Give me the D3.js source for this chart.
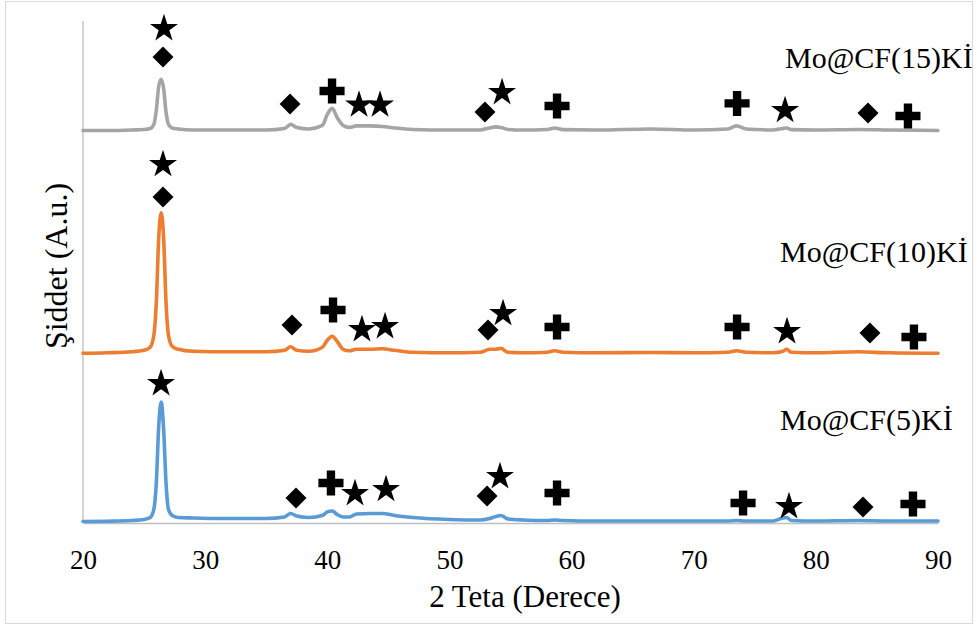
<!DOCTYPE html>
<html>
<head>
<meta charset="utf-8">
<script src="https://cdn.jsdelivr.net/npm/d3@7"></script>
<style>
  html, body { margin: 0; padding: 0; background: #fff; }
  svg { display: block; }
  svg text { font-family: "Liberation Serif", "Times New Roman", serif !important; fill: #000; }
</style>
</head>
<body>
<svg id="chart" width="977" height="626"></svg>
<script>
// ---- data ----
const theta = [20, 22, 24, 25, 25.5, 25.8, 26.0, 26.2, 26.4, 26.6, 26.8, 27.0, 27.3, 27.8, 29, 32, 35, 36.5, 37.0, 37.5, 38.5, 39.6, 40.0, 40.4, 40.8, 41.3, 41.8, 42.4, 43.5, 44.5, 45.5, 47, 50, 52.5, 53.3, 53.8, 54.2, 54.8, 56, 58, 58.6, 59.3, 62, 66.5, 70, 72.8, 73.5, 74.3, 76.5, 77.3, 77.6, 78, 80, 83.5, 86, 90];

const seriesNames = ["Mo@CF(5)Kİ", "Mo@CF(10)Kİ", "Mo@CF(15)Kİ"];
const offsets = [1.5, 169, 391];

const int5 = [0, 0.3, 1, 2, 4, 12, 38, 95, 119, 92, 38, 12, 6, 4, 3.5, 3, 3, 4.5, 8, 5.5, 4, 6, 9.5, 10.5, 7, 4.5, 4.5, 7.5, 8, 8, 6, 4, 2, 1.5, 3, 5, 6, 2.5, 1.5, 1, 1.5, 1, 0.5, 0.5, 0.5, 0.5, 1, 0.5, 0.5, 3.5, 4, 1, 0.5, 1, 0.5, 0.5];
const int10 = [0, 0.5, 1.5, 3, 6, 18, 50, 115, 140, 115, 50, 18, 7, 4, 2, 1.5, 1.5, 3, 6.5, 3, 2, 6, 13, 17, 12, 4, 2.5, 4, 4, 4.5, 3, 1, 0.5, 1, 4, 4, 5, 1, 0.5, 1, 2.5, 1, 0.5, 0.8, 0.5, 1, 2.5, 1, 0.5, 2, 4, 1, 0.5, 1.5, 0.5, 0];
const int15 = [0, 0, 0.5, 1, 2, 6, 20, 44, 51, 42, 18, 6, 2.5, 1.5, 0.5, 0.5, 0.5, 2, 6, 3, 1.5, 5, 16, 22, 13, 5, 3, 4.5, 4.5, 4, 2.5, 1, 0.5, 0.5, 2.5, 3.5, 3, 1, 0.5, 1, 2.5, 0.8, 0.5, 1.5, 0.5, 1.5, 4.5, 1.5, 0.5, 2, 2.5, 0.8, 0.5, 1, 0.5, 0];

// phase markers: star / diamond / plus
const markType5 = ["star", "diamond", "plus", "star", "star", "diamond", "star", "plus", "plus", "star", "diamond", "plus"];
const markTheta5 = [26.39, 37.44, 40.30, 42.27, 44.81, 53.08, 54.14, 58.81, 74.04, 77.80, 83.86, 87.95];
const markValue5 = [140.4, 24.9, 39.8, 30.9, 34.9, 26.9, 47.8, 29.9, 19.9, 17.9, 15.9, 18.9];

const markType10 = ["star", "diamond", "diamond", "plus", "star", "star", "diamond", "star", "plus", "plus", "star", "diamond", "plus"];
const markTheta10 = [26.55, 26.55, 37.11, 40.47, 42.84, 44.73, 53.16, 54.39, 58.81, 73.55, 77.64, 84.43, 88.03];
const markValue10 = [358.6, 324.7, 197.2, 212.2, 194.2, 197.2, 192.2, 210.2, 195.2, 195.2, 192.2, 189.2, 185.3];

const markType15 = ["star", "diamond", "diamond", "plus", "star", "star", "diamond", "star", "plus", "plus", "star", "diamond", "plus"];
const markTheta15 = [26.63, 26.55, 36.95, 40.39, 42.60, 44.32, 52.91, 54.31, 58.81, 73.55, 77.48, 84.27, 87.54];
const markValue15 = [494.0, 464.1, 417.3, 430.3, 417.9, 417.9, 409.4, 430.3, 415.3, 417.9, 412.4, 408.4, 405.4];

const xTicks = [20, 30, 40, 50, 60, 70, 80, 90];
const xTitle = "2 Teta (Derece)";
const yTitle = "Şiddet (A.u.)";

// ---- layout ----
const colors = ["#5B9BD5", "#ED7D31", "#A5A5A5"];
const svg = d3.select("#chart");
const plotLeft = 83, plotRight = 938, plotTop = 21, plotBottom = 523;
const serif = "'Liberation Serif', 'Times New Roman', serif";

svg.append("rect")
  .attr("x", 5.5).attr("y", 1.5).attr("width", 967).attr("height", 622)
  .attr("fill", "#fff").attr("stroke", "#D9D9D9").attr("stroke-width", 1);

const x = d3.scaleLinear().domain([20, 90]).range([plotLeft, plotRight]);
const y = d3.scaleLinear().domain([0, 500]).range([plotBottom, plotTop]);

// y axis line (no ticks)
svg.append("line")
  .attr("x1", plotLeft).attr("x2", plotLeft).attr("y1", plotTop).attr("y2", plotBottom)
  .attr("stroke", "#BFBFBF").attr("stroke-width", 1.3);

// x axis
const xAxis = svg.append("g")
  .attr("transform", `translate(0,${plotBottom})`)
  .call(d3.axisBottom(x).tickValues(xTicks).tickSize(0).tickPadding(0).tickFormat(d3.format("d")));
xAxis.attr("font-family", null).attr("font-size", null);
xAxis.select(".domain").attr("stroke", "#BFBFBF").attr("stroke-width", 1.3);
xAxis.selectAll(".tick text")
  .style("font-family", serif)
  .style("font-size", "27px")
  .attr("fill", "#000")
  .attr("dy", 0)
  .attr("y", 46);

// axis titles
svg.append("text")
  .attr("x", 525).attr("y", 607)
  .attr("text-anchor", "middle")
  .style("font-family", serif)
  .style("font-size", "31px")
  .text(xTitle);

svg.append("text")
  .attr("transform", "translate(67,266) rotate(-90)")
  .attr("text-anchor", "middle")
  .style("font-family", serif)
  .style("font-size", "32px")
  .text(yTitle);

// curves
const intensities = [int5, int10, int15];
const line = d3.line()
  .x(d => x(d[0]))
  .y(d => y(d[1]))
  .curve(d3.curveMonotoneX);

intensities.forEach((arr, i) => {
  const pts = theta.map((t, k) => [t, arr[k] + offsets[i]]);
  svg.append("path")
    .datum(pts)
    .attr("d", line)
    .attr("fill", "none")
    .attr("stroke", colors[i])
    .attr("stroke-width", 3.6)
    .attr("stroke-linejoin", "round")
    .attr("stroke-linecap", "round");
});

// markers
const symbolFor = {
  star: d3.symbol().type(d3.symbolStar).size(243),
  diamond: d3.symbol().type(d3.symbolSquare).size(220),
  plus: d3.symbol().type(d3.symbolCross).size(350)
};
const markSets = [
  [markType5, markTheta5, markValue5],
  [markType10, markTheta10, markValue10],
  [markType15, markTheta15, markValue15]
];
const gm = svg.append("g");
markSets.forEach(([types, ths, vals]) => {
  types.forEach((tp, k) => {
    const rot = tp === "diamond" ? " rotate(45)" : "";
    const dy = tp === "star" ? 1.5 : 0;
    gm.append("path")
      .attr("d", symbolFor[tp]())
      .attr("transform", `translate(${x(ths[k])},${y(vals[k]) + dy})${rot}`)
      .attr("fill", "#000");
  });
});

// series labels
const labelPos = [[780, 430], [780, 262], [785, 68]];
seriesNames.forEach((name, i) => {
  svg.append("text")
    .attr("x", labelPos[i][0]).attr("y", labelPos[i][1])
    .style("font-family", serif)
    .style("font-size", "30px")
    .text(name);
});
</script>
</body>
</html>
